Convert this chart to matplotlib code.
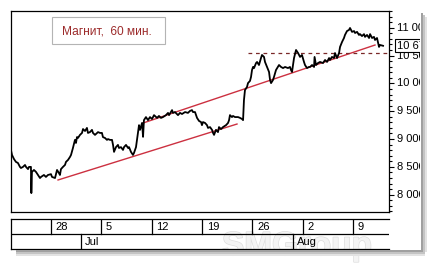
import matplotlib
matplotlib.use("Agg")
import matplotlib.pyplot as plt
from matplotlib.patches import Rectangle
from matplotlib.ticker import MultipleLocator
import matplotlib.patheffects as pe

plt.rcParams['font.family'] = ['Liberation Sans', 'DejaVu Sans']

# time axis: trading days counted from Mon 28 Jun (hourly closes)
t = [-3.97, -3.87, -3.67, -3.48, -3.28, -3.08, -2.98, -2.78, -2.58, -2.48,
     -2.28, -2.18, -1.99, -1.95, -1.89, -1.69, -1.49, -1.29, -1.09, -0.99,
     -0.70, -0.50, -0.30, 0.00, 0.10, 0.40, 0.50, 0.60, 0.79, 0.89,
     0.99, 1.19, 1.39, 1.49, 1.69, 1.89, 1.99, 2.18, 2.38, 2.48,
     2.58, 2.68, 2.88, 3.08, 3.18, 3.38, 3.57, 3.67, 3.87, 4.07,
     4.17, 4.37, 4.57, 4.67, 4.87, 5.06, 5.16, 5.36, 5.56, 5.66,
     5.86, 6.06, 6.16, 6.26, 6.45, 6.65, 6.75, 6.95, 7.15, 7.25,
     7.45, 7.65, 7.75, 7.94, 8.14, 8.24, 8.44, 8.64, 8.74, 8.84,
     9.04, 9.14, 9.23, 9.43, 9.63, 9.83, 10.03, 10.23, 10.53, 10.72,
     10.92, 11.12, 11.42, 11.62, 11.72, 12.02, 12.11, 12.31, 12.61, 12.81,
     13.01, 13.31, 13.60, 13.80, 14.00, 14.10, 14.30, 14.50, 14.70, 14.90,
     14.99, 15.09, 15.29, 15.49, 15.59, 15.79, 15.99, 16.09, 16.19, 16.38,
     16.58, 16.68, 16.88, 17.08, 17.38, 17.58, 17.68, 17.77, 17.97, 18.07,
     18.27, 18.57, 18.77, 18.97, 19.07, 19.16, 19.26, 19.46, 19.56, 19.76,
     19.86, 19.96, 20.06, 20.16, 20.36, 20.46, 20.65, 20.85, 20.95, 21.15,
     21.25, 21.45, 21.65, 21.75, 21.85, 22.04, 22.14, 22.34, 22.64, 22.84,
     23.04, 23.24, 23.53, 23.73, 23.83, 23.93, 24.13, 24.33, 24.53, 24.73,
     24.92, 25.12, 25.22, 25.42, 25.62, 25.72, 25.92, 26.12, 26.17, 26.31,
     26.51, 26.71, 27.01, 27.21, 27.41, 27.61, 27.70, 27.90, 28.10, 28.20,
     28.40, 28.60, 28.70, 28.90, 29.09, 29.19, 29.39, 29.59, 29.69, 29.89,
     30.09, 30.19, 30.39, 30.58, 30.68, 30.88, 31.08, 31.18, 31.38, 31.58,
     31.68, 31.88, 32.07, 32.17, 32.37, 32.57, 32.67, 32.97]
price = [8800, 8715, 8640, 8590, 8570, 8500, 8480, 8500, 8535, 8500,
         8460, 8500, 8500, 8030, 8410, 8445, 8410, 8355, 8300, 8320,
         8355, 8320, 8355, 8370, 8320, 8300, 8370, 8445, 8390, 8355,
         8460, 8500, 8535, 8590, 8625, 8680, 8715, 8840, 8985, 8930,
         9035, 9020, 9075, 9110, 9180, 9145, 9200, 9110, 9125, 9165,
         9110, 9075, 9110, 9125, 9110, 9110, 9035, 9020, 8985, 9000,
         8985, 8985, 8895, 8770, 8855, 8895, 8840, 8855, 8805, 8855,
         8895, 8840, 8855, 8770, 8715, 8750, 8855, 9110, 9250, 9165,
         9290, 9040, 9340, 9395, 9340, 9395, 9360, 9430, 9380, 9415,
         9380, 9395, 9430, 9470, 9430, 9520, 9470, 9485, 9430, 9470,
         9450, 9485, 9470, 9505, 9520, 9485, 9485, 9380, 9325, 9305,
         9250, 9305, 9290, 9250, 9200, 9215, 9165, 9110, 9075, 9165,
         9125, 9215, 9180, 9215, 9250, 9290, 9340, 9430, 9395, 9415,
         9395, 9395, 9380, 9360, 9340, 9700, 9880, 9935, 10005, 10045,
         10115, 10240, 10295, 10275, 10365, 10385, 10330, 10455, 10510, 10475,
         10385, 10295, 10205, 10060, 10005, 10060, 10115, 10240, 10330, 10295,
         10275, 10295, 10275, 10295, 10240, 10205, 10455, 10600, 10545, 10475,
         10510, 10385, 10330, 10275, 10295, 10295, 10330, 10295, 10475, 10330,
         10365, 10385, 10365, 10420, 10385, 10455, 10420, 10475, 10455, 10545,
         10455, 10545, 10655, 10745, 10815, 10870, 10940, 10960, 10995, 10925,
         10940, 10905, 10925, 10870, 10885, 10850, 10885, 10835, 10870, 10815,
         10885, 10815, 10835, 10780, 10815, 10655, 10690, 10675]

support_t = [0.70, 18.47]
support_p = [8265, 9270]
trend_t = [9.14, 32.17]
trend_p = [9288, 10689]
resist_start = 19.56
resist_level = 10540

week_pos = [0, 5, 10, 15, 20, 25, 30]
week_lbl = ['28', '5', '12', '19', '26', '2', '9']
month_pos = [3, 24]
month_lbl = ['Jul', 'Aug']
y_major = [8000, 8500, 9000, 9500, 10000, 10500, 11000]

W, H = 434, 264
fig = plt.figure(figsize=(W / 100, H / 100), dpi=100)

ax = fig.add_axes([11 / W, 1 - 212 / H, 378 / W, 201 / H])
ax.plot(t, price, color='black', lw=1.3, zorder=3)
ax.plot(support_t, support_p, color='#cc3040', lw=1.0, zorder=2)
ax.plot(trend_t, trend_p, color='#cc3040', lw=1.0, zorder=2)
ax.hlines(resist_level, resist_start, 34, color='#7a2828', lw=0.9,
          linestyles=(0, (3, 3)), zorder=2)

ax.set_xlim(-3.97, 33.56)
ax.set_ylim(7690, 11300)
ax.set_xticks([])
ax.yaxis.tick_right()
ax.set_yticks(y_major)
ax.yaxis.set_minor_locator(MultipleLocator(100))
ax.tick_params(axis='y', which='major', length=3.5, width=0.8,
               labelright=False, right=True, left=False)
ax.tick_params(axis='y', which='minor', length=2, width=0.8,
               right=True, left=False)
for s in ax.spines.values():
    s.set_linewidth(0.9)

yt = ax.get_yaxis_transform()
for v in y_major:
    ax.text(1 + 8 / 378, v, f'{v:,}'.replace(',', ' '), transform=yt,
            ha='left', va='center', fontsize=8)

last = price[-1]
ax.text(1 + 8 / 378, last, f'{last:,}'.replace(',', ' '), transform=yt,
        ha='left', va='center', fontsize=8, zorder=5,
        bbox=dict(boxstyle='square,pad=0.15', fc='white', ec='black', lw=0.8))

# title box
fig.add_artist(Rectangle((52 / W, 1 - 44 / H), 113 / W, 27 / H,
                         transform=fig.transFigure, fc='white',
                         ec='#b4b4b4', lw=0.8))
fig.text(62 / W, 1 - 31 / H, 'Магнит,  60 мин.', color='#9c2b2b',
         fontsize=8.6, ha='left', va='center')

# date rows
dx = fig.add_axes([11 / W, 1 - 249 / H, 378 / W, 30 / H])
dx.set_facecolor('none')
dx.set_xlim(ax.get_xlim())
dx.set_ylim(0, 2)
dx.set_xticks([])
dx.set_yticks([])
dx.spines['right'].set_visible(False)
for s in dx.spines.values():
    s.set_linewidth(0.9)
dx.axhline(1, color='black', lw=0.9)
for p, lbl in zip(week_pos, week_lbl):
    dx.plot([p, p], [1, 2], color='black', lw=0.9)
    dx.text(p + 0.45, 1.48, lbl, ha='left', va='center', fontsize=8)
for p, lbl in zip(month_pos, month_lbl):
    dx.plot([p, p], [0, 1], color='black', lw=0.9)
    dx.text(p + 0.4, 0.48, lbl, ha='left', va='center', fontsize=8)

# watermark
fig.text(222 / W, 2 / H, 'SMGroup', fontsize=24, fontweight='bold',
         color='#f4f4f4', ha='left', va='bottom', zorder=-1,
         path_effects=[pe.withStroke(linewidth=1, foreground='#dedede')])

# window edge and shadow
fig.add_artist(Rectangle((420 / W, 0), 14 / W, 1, transform=fig.transFigure,
                         fc='white', ec='none', zorder=10))
for i, c in enumerate(['#a0a0a0', '#c4c4c4', '#e2e2e2']):
    fig.add_artist(Rectangle(((421 + 2 * i) / W, 1 - (256 - 2 * i) / H),
                             2 / W, (243 - 4 * i) / H,
                             transform=fig.transFigure, fc=c, ec='none',
                             zorder=11))
    fig.add_artist(Rectangle((16 / W, 1 - (252 + 2 * i) / H),
                             (405 + 2 * i) / W, 2 / H,
                             transform=fig.transFigure, fc=c, ec='none',
                             zorder=11))

fig.savefig('out.png', dpi=100, facecolor='white')
